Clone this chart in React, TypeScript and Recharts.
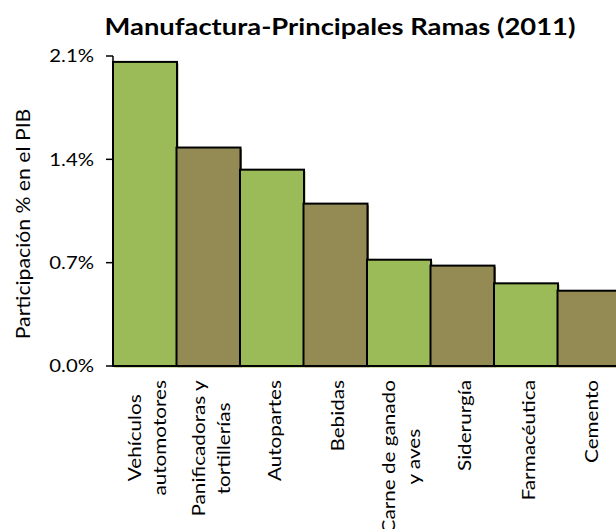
import React from 'react'
import { BarChart, Bar, XAxis, YAxis, Cell } from 'recharts'

const categories = [
  'Vehículos\nautomotores',
  'Panificadoras y\ntortillerías',
  'Autopartes',
  'Bebidas',
  'Carne de ganado\ny aves',
  'Siderurgía',
  'Farmacéutica',
  'Cemento',
]
const shares = [2.06, 1.48, 1.33, 1.1, 0.72, 0.68, 0.56, 0.51]
const yTicks = [0, 0.7, 1.4, 2.1]
const barColors = ['#9BBB59', '#948A54']

const FONT = 'Lato, "Open Sans", sans-serif'
const LABEL_SIZE = 18
// the source text is a wide Calibri; stretch Lato along the text direction
const STRETCH = 1.15

const data = categories.map((name, i) => ({ name, value: shares[i] }))

let measureCtx: CanvasRenderingContext2D | null = null
function textWidth(s: string, size: number): number {
  if (!measureCtx && typeof document !== 'undefined') {
    measureCtx = document.createElement('canvas').getContext('2d')
  }
  if (!measureCtx) return s.length * size * 0.5
  measureCtx.font = `${size}px Lato`
  return measureCtx.measureText(s).width
}

function CategoryTick(props: any) {
  const { x, y, payload } = props
  const lines: string[] = String(payload.value).split('\n')
  const maxLen = Math.max(...lines.map((l) => textWidth(l, LABEL_SIZE)))
  const gap = 14 / STRETCH
  const lineStep = 25
  return (
    <text
      transform={`translate(${x},${y}) rotate(-90) scale(${STRETCH},1)`}
      fontFamily={FONT}
      fontSize={LABEL_SIZE}
      fill="#000"
      textAnchor="middle"
    >
      {lines.map((l, i) => (
        <tspan key={i} x={-(gap + maxLen / 2)} y={9 + (i - (lines.length - 1) / 2) * lineStep}>
          {l}
        </tspan>
      ))}
    </text>
  )
}

function ValueTick(props: any) {
  const { x, y, payload } = props
  return (
    <text
      transform={`translate(${x},${y}) scale(${STRETCH - 0.02},1)`}
      textAnchor="end"
      dy="0.36em"
      fontFamily={FONT}
      fontSize={LABEL_SIZE}
      fill="#000"
    >
      {`${Number(payload.value).toFixed(1)}%`}
    </text>
  )
}

function ShadowBar(props: any) {
  const { x, y, width, height, index } = props
  const fill = barColors[index % 2]
  return (
    <g>
      <rect x={x + 1.5} y={y + 1.5} width={width} height={height} fill={fill} />
      <rect x={x} y={y} width={width} height={height} fill={fill} stroke="#000" strokeWidth={2} />
    </g>
  )
}

function YLabel() {
  return (
    <text
      transform="translate(29.5,224) rotate(-90) scale(1.06,1)"
      textAnchor="middle"
      fontFamily={FONT}
      fontSize={20}
      fill="#000"
    >
      Participación % en el PIB
    </text>
  )
}

export default function App() {
  return (
    <div
      style={{
        position: 'fixed',
        left: 0,
        top: 0,
        width: 616,
        height: 529,
        overflow: 'hidden',
        background: '#fff',
      }}
    >
      <BarChart
        width={624}
        height={529}
        data={data}
        margin={{ top: 56, right: 3, bottom: 3, left: 0 }}
        barCategoryGap={0}
        barGap={0}
      >
        <text
          transform="translate(340,35) scale(1.19,1)"
          textAnchor="middle"
          fontFamily={FONT}
          fontWeight="bold"
          fontSize={23}
          fill="#000"
        >
          Manufactura-Principales Ramas (2011)
        </text>
        <XAxis
          dataKey="name"
          interval={0}
          height={160}
          tickLine={false}
          tickSize={0}
          tickMargin={0}
          axisLine={{ stroke: '#000', strokeWidth: 1.5 }}
          tick={<CategoryTick />}
        />
        <YAxis
          width={113}
          domain={[0, 2.1]}
          ticks={yTicks}
          tickSize={7}
          tickMargin={12}
          tick={<ValueTick />}
          tickLine={{ stroke: '#000', strokeWidth: 1.5 }}
          axisLine={{ stroke: '#000', strokeWidth: 1.5 }}
          label={<YLabel />}
        />
        <Bar dataKey="value" shape={<ShadowBar />} isAnimationActive={false}>
          {data.map((_, i) => (
            <Cell key={i} fill={barColors[i % 2]} />
          ))}
        </Bar>
      </BarChart>
    </div>
  )
}
